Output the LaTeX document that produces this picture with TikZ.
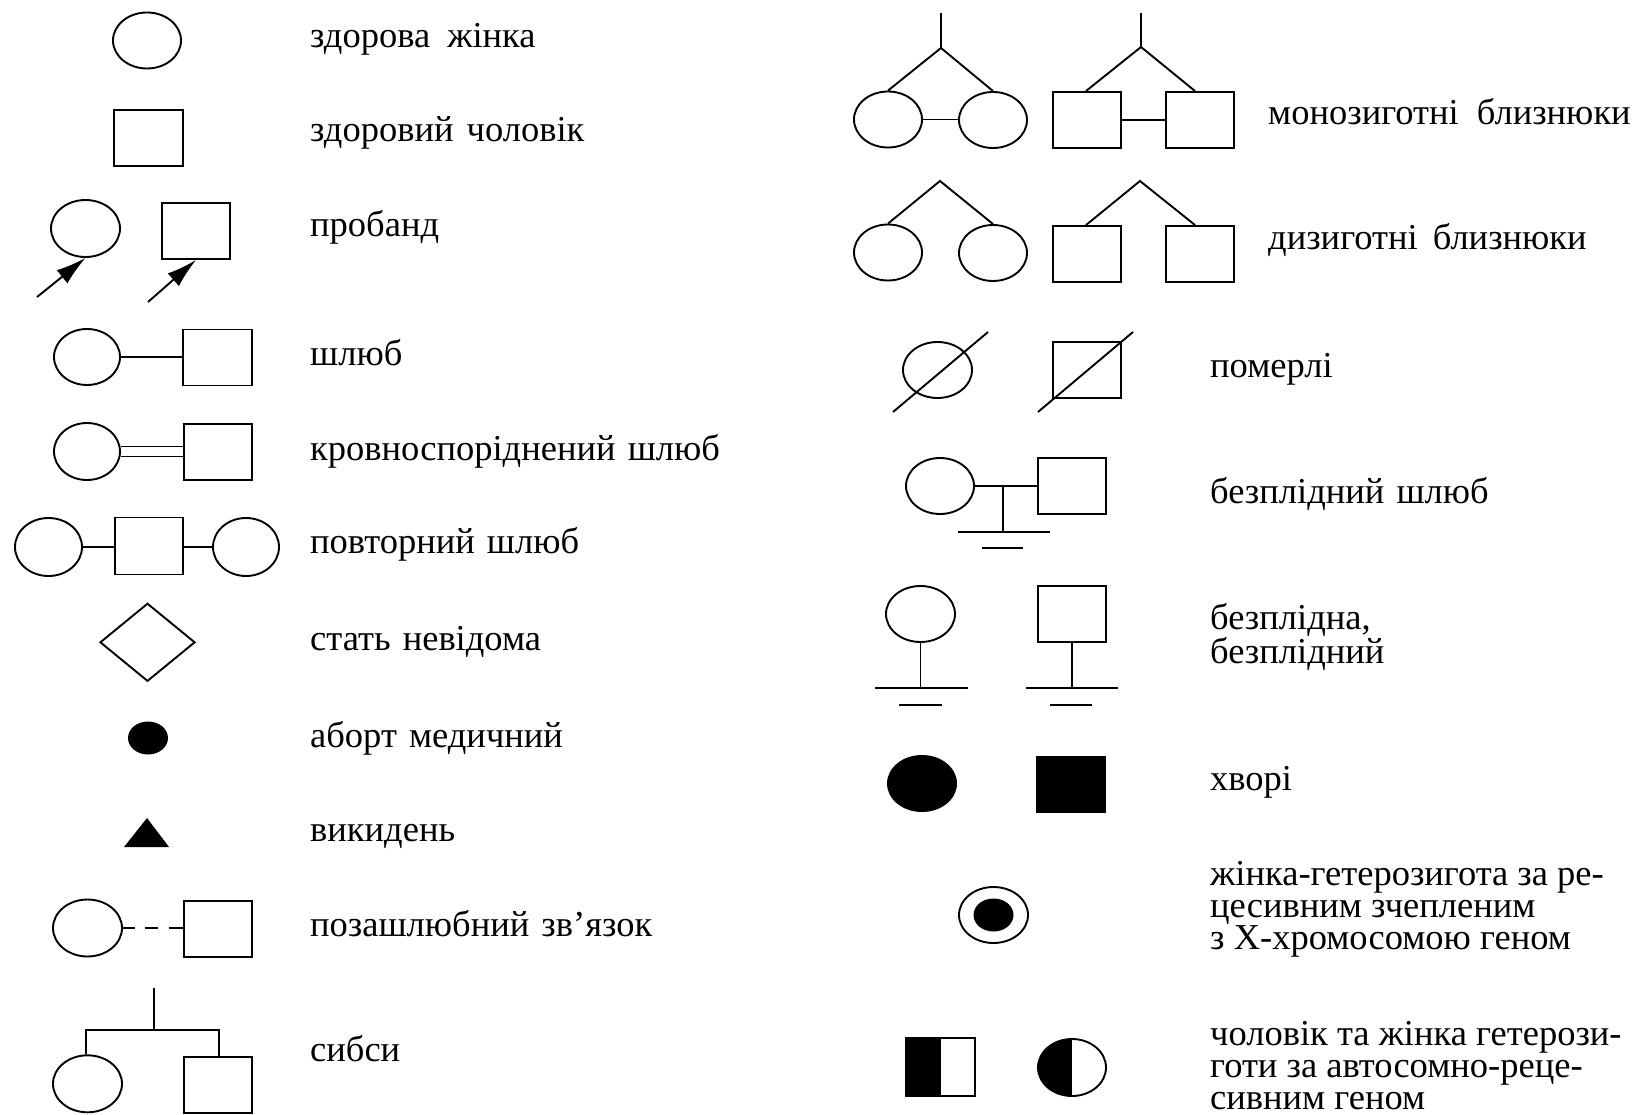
\documentclass[tikz,border=0pt]{standalone}
\usepackage{fontspec}
\setmainfont{Liberation Serif}
\usetikzlibrary{shapes.geometric,arrows.meta,calc}
\begin{document}
\begin{tikzpicture}[x=1pt,y=-1pt,
  conn/.style={line width=1.9pt},
  fem/.style={draw,ellipse,line width=1.9pt,inner sep=0pt,minimum width=68pt,minimum height=56pt},
  mal/.style={draw,rectangle,line width=1.9pt,inner sep=0pt,minimum width=68pt,minimum height=56pt},
  ffem/.style={fill,ellipse,inner sep=0pt,minimum width=70pt,minimum height=57pt},
  fmal/.style={fill,rectangle,inner sep=0pt,minimum width=70pt,minimum height=57pt},
  dot/.style={fill,ellipse,inner sep=0pt,minimum width=40pt,minimum height=33pt},
  lbl/.style={anchor=base west,inner sep=0pt,align=left,font=\fontsize{36.5}{32}\selectfont},
  halffill/.style={path picture={\fill (path picture bounding box.south west) rectangle (path picture bounding box.north);}},
  arr/.style={line width=1.9pt,-{Latex[length=30pt,width=17pt]}}
]
\useasboundingbox[fill=white] (0,0) rectangle (1640,1115);

% ---------------- left column ----------------
\node[fem] (hF) at (147,40.5) {};
\node[lbl] (t1) at (310,48) {здорова\hspace{8pt} жінка};

\node[mal,minimum width=69pt] (hM) at (148.5,138) {};
\node[lbl] (t2) at (310,142) {здоровий\hspace{4pt} чоловік};

\node[fem,minimum width=69pt,minimum height=57pt] (pF) at (85.5,228.5) {};
\node[mal] (pM) at (196,231) {};
\coordinate (pFa) at (37,297);
\coordinate (pMa) at (148,302);
\draw[arr] (pFa) -- (pF.south);
\draw[arr] (pMa) -- (pM.south);
\node[lbl] (t3) at (310,237) {пробанд};

\node[fem,minimum width=66pt] (mF) at (87,357) {};
\node[mal,minimum width=69pt] (mM) at (217.5,357.5) {};
\draw[conn] (mF.east) -- (mF.east -| mM.west);
\node[lbl] (t4) at (310,365) {шлюб};

\node[fem,minimum width=66pt,minimum height=57pt] (kF) at (87,451.5) {};
\node[mal] (kM) at (218,452) {};
\draw[conn] ($(kF.east)+(0,-5)$) -- ($(kF.east -| kM.west)+(0,-5)$);
\draw[conn] ($(kF.east)+(0,5)$) -- ($(kF.east -| kM.west)+(0,5)$);
\node[lbl] (t5) at (310,460) {кровноспоріднений\hspace{3pt} шлюб};

\node[fem,minimum width=67pt,minimum height=58pt] (rF1) at (48.5,547) {};
\node[mal,minimum height=57pt] (rM) at (149,546) {};
\node[fem,minimum width=66pt,minimum height=58pt] (rF2) at (246,547) {};
\draw[conn] (rF1.east) -- (rF1.east -| rM.west);
\draw[conn] (rM.east |- rF2.west) -- (rF2.west);
\node[lbl] (t6) at (310,553) {повторний\hspace{3pt} шлюб};

\node[draw,diamond,line width=1.9pt,inner sep=0pt,minimum width=95pt,minimum height=78pt] (unk) at (147.5,642.3) {};
\node[lbl] (t7) at (310,650) {стать\hspace{3pt} невідома};

\node[dot] (ab) at (148,738) {};
\node[lbl] (t8) at (310,747) {аборт\hspace{3pt} медичний};

\fill (147,818) -- (169,847) -- (124,847) -- cycle;
\node[lbl] (t9) at (310,841) {викидень};

\node[fem,minimum width=69pt,minimum height=57pt] (oF) at (87.5,928) {};
\node[mal] (oM) at (218,929) {};
\draw[conn,dash pattern=on 12pt off 10pt on 13pt off 11pt on 20pt] (oF.east) -- (oF.east -| oM.west);
\node[lbl] (t10) at (310,936.5) {позашлюбний\hspace{3pt} зв’язок};

\node[fem,minimum width=69pt,minimum height=57pt] (sF) at (87.5,1083.8) {};
\node[mal] (sM) at (218,1085) {};
\coordinate (sTop) at (154,987.7);
\coordinate (sBar) at (154,1030);
\draw[conn] (sTop) -- (sBar);
\draw[conn] ($(sF.north)+(-1.5,0)$) |- (sBar) -| ($(sM.north)+(1,0)$);
\node[lbl] (t11) at (310,1061) {сибси};

% ---------------- right column ----------------
% monozygotic twins
\node[fem] (tF1) at (888,119.5) {};
\node[fem] (tF2) at (993,120) {};
\coordinate (tFa) at (941,48);
\coordinate (tFt) at (941,13);
\draw[conn] (tFt) -- (tFa);
\draw[conn] (tF1.north) -- (tFa) -- (tF2.north);
\draw[conn] (tF1.east) -- (tF1.east -| tF2.west);
\node[mal] (tM1) at (1087,120) {};
\node[mal] (tM2) at (1200,120) {};
\coordinate (tMa) at (1141,47);
\coordinate (tMt) at (1141,13);
\draw[conn] (tMt) -- (tMa);
\draw[conn] ($(tM1.north)+(-1,0)$) -- (tMa) -- ($(tM2.north)+(-5,0)$);
\draw[conn] (tM1.east) -- (tM1.east -| tM2.west);
\node[lbl] (t12) at (1268,125) {монозиготні\hspace{9pt} близнюки};

% dizygotic twins
\node[fem] (dF1) at (888,252.5) {};
\node[fem] (dF2) at (993,253) {};
\coordinate (dFa) at (940,181);
\draw[conn] (dF1.north) -- (dFa) -- (dF2.north);
\node[mal] (dM1) at (1087,254) {};
\node[mal] (dM2) at (1200,254) {};
\coordinate (dMa) at (1140,181);
\draw[conn] ($(dM1.north)+(-1,0)$) -- (dMa) -- ($(dM2.north)+(-5,0)$);
\node[lbl] (t13) at (1268,250) {дизиготні\hspace{6pt} близнюки};

% deceased
\node[fem,minimum width=69pt] (xF) at (937.5,370) {};
\draw[conn] (xF) ++(-44.5,42) -- ++(95,-80);
\node[mal] (xM) at (1087,370) {};
\draw[conn] (xM) ++(-49,42) -- ++(95,-80);
\node[lbl] (t14) at (1210,377) {померлі};

% infertile marriage
\node[fem] (iF) at (940,486) {};
\node[mal] (iM) at (1072,486) {};
\draw[conn] (iF.east) -- (iF.east -| iM.west);
\coordinate (iJ) at (1003.3,486);
\coordinate (iB) at (1003.3,531.7);
\draw[conn] (iJ) -- (iB);
\draw[conn] ($(iB)+(-45.3,0)$) -- ($(iB)+(46.7,0)$);
\draw[conn] (982,547.7) -- (1023,547.7);
\node[lbl] (t15) at (1210,503) {безплідний\hspace{3pt} шлюб};

% infertile individuals
\node[fem,minimum width=69pt] (jF) at (920.5,614) {};
\coordinate (jFb) at (920.5,688);
\draw[conn] (jF.south) -- (jFb);
\draw[conn] ($(jFb)+(-45.5,0)$) -- ($(jFb)+(47.5,0)$);
\draw[conn] ($(jFb)+(-21.5,17)$) -- ($(jFb)+(21.5,17)$);
\node[mal] (jM) at (1072,614) {};
\coordinate (jMb) at (1072,688);
\draw[conn] (jM.south) -- (jMb);
\draw[conn] ($(jMb)+(-46,0)$) -- ($(jMb)+(46,0)$);
\draw[conn] ($(jMb)+(-22,17)$) -- ($(jMb)+(20,17)$);
\node[lbl] (t16) at (1210,663.5) {безплідна,\\безплідний};

% affected
\node[ffem] (aF) at (922,783.5) {};
\node[fmal] (aM) at (1071,784.5) {};
\node[lbl] (t17) at (1210,790) {хворі};

% X-linked carrier
\node[fem,minimum width=69pt] (cF) at (993.5,915) {};
\node[dot] (cD) at (cF.center) {};
\node[lbl] (t18) at (1210,949) {жінка-гетерозигота за ре-\\цесивним зчепленим\\з Х-хромосомою геном};

% autosomal carriers
\node[mal,halffill,minimum width=69pt,minimum height=58pt] (hsM) at (940.5,1067) {};
\node[fem,halffill,minimum height=57pt] (hcF) at (1072,1067.5) {};
\node[lbl] (t19) at (1210,1109) {чоловік та жінка гетерози-\\готи за автосомно-реце-\\сивним геном};
\end{tikzpicture}
\end{document}
